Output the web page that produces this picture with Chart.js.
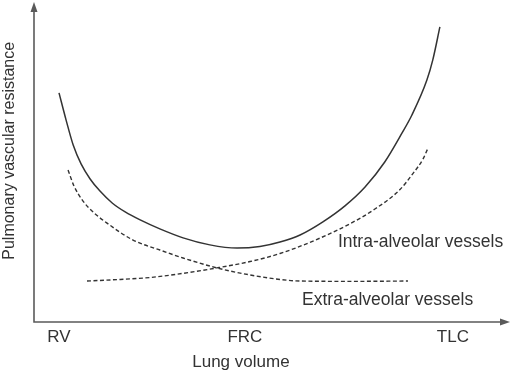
<!DOCTYPE html>
<html>
<head>
<meta charset="utf-8">
<script src="https://cdn.jsdelivr.net/npm/chart.js@4/dist/chart.umd.min.js"></script>
<style>
  html, body { margin: 0; padding: 0; background: #fff; }
  #wrap { width: 512px; height: 373px; }
</style>
</head>
<body>
<div id="wrap"><canvas id="c" width="512" height="373"></canvas></div>
<script>
// Lung volume (RV = 0, TLC = 100) and pulmonary vascular resistance (arbitrary units)
const totalX = [0.0, 1.8, 3.6, 5.6, 7.9, 10.4, 13.5, 16.8, 20.6, 25.6, 31.5, 38.3, 45.2, 51.0, 56.1, 61.2, 67.0, 72.6, 77.7, 82.7, 87.1, 89.6, 93.4, 94.9, 96.7];
const totalY = [71.6, 63.1, 55.3, 49.4, 44.7, 40.9, 37.2, 34.4, 31.9, 29.1, 26.3, 24.1, 23.1, 23.6, 25.0, 27.2, 31.3, 36.3, 42.2, 50.0, 59.1, 64.7, 75.6, 81.9, 92.2];

const intraX = [7.1, 15.5, 23.1, 31.5, 40.1, 48.5, 56.1, 64.5, 73.1, 80.2, 86.5, 89.8, 92.4, 93.7];
const intraY = [12.8, 13.3, 13.9, 15.2, 16.9, 18.9, 21.4, 25.3, 30.2, 35.3, 41.3, 46.3, 50.9, 54.4];

const extraX = [2.3, 3.8, 6.1, 8.9, 12.2, 18.8, 25.6, 31.5, 40.1, 48.5, 56.1, 61.2, 73.9, 88.6];
const extraY = [47.5, 42.5, 37.8, 34.1, 30.9, 25.6, 22.5, 20.0, 16.9, 14.7, 13.3, 12.8, 12.7, 12.8];

const tickValues = [0, 47.2, 100];
const tickLabels = ['RV', 'FRC', 'TLC'];

const seriesNames = ['Pulmonary vascular resistance', 'Intra-alveolar vessels', 'Extra-alveolar vessels'];
const xTitle = 'Lung volume';
const yTitle = 'Pulmonary vascular resistance';

function pts(xs, ys) { return xs.map((x, i) => ({ x: x, y: ys[i] })); }

const FONT = '"Liberation Sans", Arial, sans-serif';
const TEXT = '#333333';
const LINE = '#333333';
const AXIS = '#5a5a5a';

const axesPlugin = {
  id: 'arrowAxes',
  beforeDatasetsDraw(chart) {
    const { ctx, chartArea: a } = chart;
    ctx.save();
    ctx.strokeStyle = AXIS;
    ctx.fillStyle = AXIS;
    ctx.lineWidth = 1.6;
    ctx.beginPath();
    ctx.moveTo(a.left, a.top + 8);
    ctx.lineTo(a.left, a.bottom);
    ctx.lineTo(a.right - 8, a.bottom);
    ctx.stroke();
    ctx.beginPath();
    ctx.moveTo(a.left, a.top);
    ctx.lineTo(a.left - 3.5, a.top + 10);
    ctx.lineTo(a.left + 3.5, a.top + 10);
    ctx.closePath();
    ctx.fill();
    ctx.beginPath();
    ctx.moveTo(a.right, a.bottom);
    ctx.lineTo(a.right - 10, a.bottom - 3.5);
    ctx.lineTo(a.right - 10, a.bottom + 3.5);
    ctx.closePath();
    ctx.fill();
    ctx.restore();
  }
};

const labelPlugin = {
  id: 'curveLabels',
  afterDatasetsDraw(chart) {
    const { ctx, scales } = chart;
    const sx = scales.x, sy = scales.y;
    ctx.save();
    ctx.fillStyle = TEXT;
    ctx.font = '17.5px ' + FONT;
    ctx.textAlign = 'left';
    ctx.textBaseline = 'alphabetic';
    ctx.fillText(seriesNames[1], sx.getPixelForValue(70.8), sy.getPixelForValue(23.4));
    ctx.fillText(seriesNames[2], sx.getPixelForValue(61.7), sy.getPixelForValue(5.3));
    // x-axis title, centred just left of the FRC tick
    ctx.font = '17px ' + FONT;
    ctx.textAlign = 'center';
    ctx.fillText(xTitle, sx.getPixelForValue(tickValues[1]) - 4, chart.height - 6);
    // y-axis title, rotated, centred a little above the middle of the axis
    ctx.font = '16px ' + FONT;
    ctx.textBaseline = 'middle';
    ctx.translate(10, sy.getPixelForValue(53.5));
    ctx.rotate(-Math.PI / 2);
    ctx.fillText(yTitle, 0, 0);
    ctx.restore();
  }
};

new Chart(document.getElementById('c'), {
  type: 'line',
  data: {
    datasets: [
      { label: seriesNames[0], data: pts(totalX, totalY), borderColor: LINE, borderWidth: 1.5, pointRadius: 0, cubicInterpolationMode: 'monotone', fill: false },
      { label: seriesNames[1], data: pts(intraX, intraY), borderColor: LINE, borderWidth: 1.4, borderDash: [4, 2.5], pointRadius: 0, cubicInterpolationMode: 'monotone', fill: false },
      { label: seriesNames[2], data: pts(extraX, extraY), borderColor: LINE, borderWidth: 1.4, borderDash: [4, 2.5], pointRadius: 0, cubicInterpolationMode: 'monotone', fill: false }
    ]
  },
  options: {
    responsive: false,
    animation: false,
    devicePixelRatio: 1,
    layout: { padding: { left: 0, top: 2, right: 2, bottom: 0 } },
    plugins: { legend: { display: false }, tooltip: { enabled: false } },
    scales: {
      x: {
        type: 'linear',
        min: -6.35,
        max: 114.5,
        grid: { display: false, drawTicks: false },
        border: { display: false },
        afterBuildTicks(scale) { scale.ticks = tickValues.map(v => ({ value: v })); },
        afterFit(scale) { scale.height = 51; },
        ticks: {
          autoSkip: false,
          maxRotation: 0,
          padding: 5,
          color: TEXT,
          font: { family: FONT, size: 17 },
          callback(value) { const i = tickValues.indexOf(value); return i >= 0 ? tickLabels[i] : ''; }
        },
        title: { display: false, text: xTitle }
      },
      y: {
        type: 'linear',
        min: 0,
        max: 100,
        grid: { display: false, drawTicks: false },
        border: { display: false },
        ticks: { display: false },
        afterFit(scale) { scale.width = 34; },
        title: { display: false, text: yTitle }
      }
    }
  },
  plugins: [axesPlugin, labelPlugin]
});
</script>
</body>
</html>
